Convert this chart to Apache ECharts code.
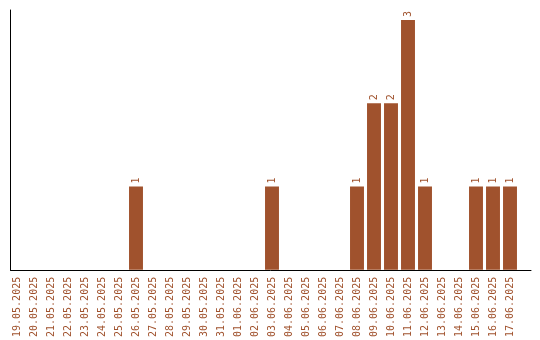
<!DOCTYPE html>
<html><head><meta charset="utf-8">
<script src="https://cdn.jsdelivr.net/npm/echarts@6/dist/echarts.min.js"></script>
<style>html,body{margin:0;padding:0;background:#fff}#c{width:540px;height:340px}</style>
</head><body><div id="c"></div>
<script>
const categories = ["19.05.2025","20.05.2025","21.05.2025","22.05.2025","23.05.2025","24.05.2025","25.05.2025","26.05.2025","27.05.2025","28.05.2025","29.05.2025","30.05.2025","31.05.2025","01.06.2025","02.06.2025","03.06.2025","04.06.2025","05.06.2025","06.06.2025","07.06.2025","08.06.2025","09.06.2025","10.06.2025","11.06.2025","12.06.2025","13.06.2025","14.06.2025","15.06.2025","16.06.2025","17.06.2025"];
const values = [0,0,0,0,0,0,0,1,0,0,0,0,0,0,0,1,0,0,0,0,1,2,2,3,1,0,0,1,1,1];
const color = '#a0522d';
const chart = echarts.init(document.getElementById('c'), null, {renderer:'canvas'});
chart.setOption({
  animation:false,
  grid:[
    {left:8.5,right:21.5,top:10,bottom:70,containLabel:false},
    {left:10.5,right:9,top:10,bottom:70,containLabel:false}
  ],
  xAxis:[
    {gridIndex:0,type:'category',data:categories,
      axisLine:{show:false},axisTick:{show:false},
      axisLabel:{rotate:90,interval:0,color:color,fontFamily:'DejaVu Sans Mono',fontSize:10,margin:7}},
    {gridIndex:1,type:'value',min:0,max:1,axisLabel:{show:false},axisTick:{show:false},splitLine:{show:false},
      axisLine:{show:true,lineStyle:{color:'#000',width:1}}}
  ],
  yAxis:[
    {gridIndex:0,type:'value',min:0,max:3.12,splitLine:{show:false},axisLabel:{show:false},
      axisLine:{show:false},axisTick:{show:false}},
    {gridIndex:1,type:'value',min:0,max:1,splitLine:{show:false},axisLabel:{show:false},
      axisLine:{show:true,lineStyle:{color:'#000',width:1}},axisTick:{show:false}}
  ],
  series:[{type:'bar',xAxisIndex:0,yAxisIndex:0,data:values.map(v=>v===0?null:v),barCategoryGap:'18%',
    itemStyle:{color:color},
    label:{show:true,position:'top',rotate:90,align:'left',verticalAlign:'middle',distance:3,color:color,fontFamily:'DejaVu Sans Mono',fontSize:10}}]
});
</script></body></html>
